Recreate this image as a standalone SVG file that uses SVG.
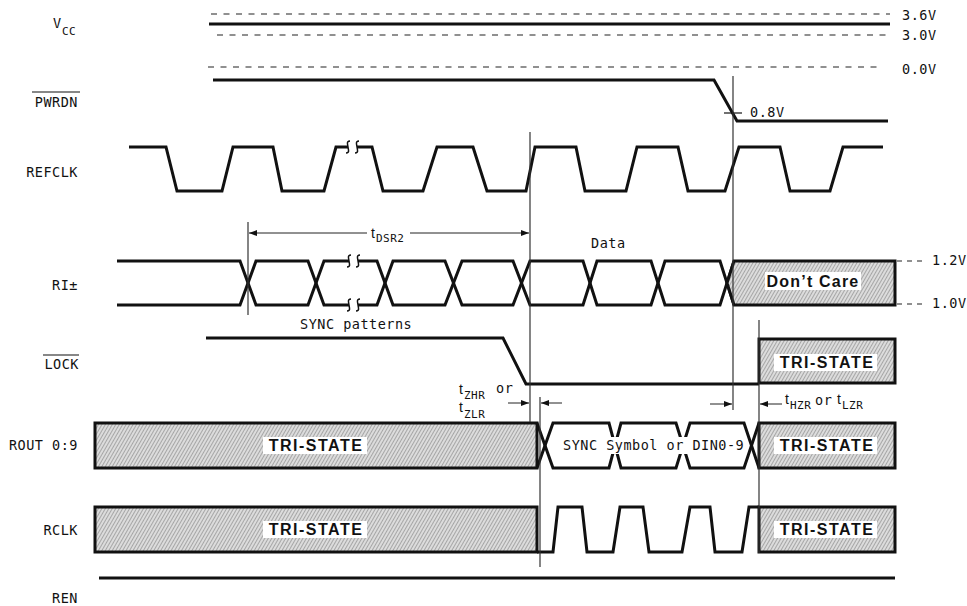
<svg xmlns="http://www.w3.org/2000/svg" width="967" height="606" viewBox="0 0 967 606">
<defs>
<pattern id="hatch" width="3" height="3" patternUnits="userSpaceOnUse" patternTransform="rotate(30)">
<rect width="3" height="3" fill="#dcdcdc"/>
<line x1="0" y1="0" x2="0" y2="3" stroke="#7a7a7a" stroke-width="1.1"/>
</pattern>
<marker id="ah" viewBox="0 0 8 6" markerWidth="8" markerHeight="6" refX="8" refY="3" orient="auto-start-reverse" markerUnits="userSpaceOnUse">
<path d="M0,0 L8,3 L0,6 z" fill="#111"/>
</marker>
<style>
.sig{fill:none;stroke:#111;stroke-width:3;stroke-linejoin:miter}
.box{fill:url(#hatch);stroke:#111;stroke-width:3}
.dash{fill:none;stroke:#222;stroke-width:1.2;stroke-dasharray:6 6.5}
.ref{fill:none;stroke:#333;stroke-width:1.2}
.arr{fill:none;stroke:#222;stroke-width:1}
.brk{fill:none;stroke:#111;stroke-width:1.5}
.lbl{font-family:"DejaVu Sans Mono","Liberation Mono",monospace;font-size:13.5px;letter-spacing:0.5px;fill:#111}
.t{font-family:"Liberation Sans",Arial,sans-serif;font-size:14px;fill:#111}
.sub{font-family:"DejaVu Sans Mono","Liberation Mono",monospace;font-size:11px;letter-spacing:0.5px;fill:#111}
.bold{font-family:"Liberation Sans",Arial,sans-serif;font-weight:bold;font-size:16px;letter-spacing:1.5px;fill:#111}
.wbg{fill:#fff}
</style>
</defs>
<rect width="967" height="606" fill="#fff"/>

<g id="labels">
<text class="lbl" x="53" y="28">V</text>
<text class="sub" x="62" y="35">CC</text>
<text class="lbl" x="78" y="107" text-anchor="end">PWRDN</text>
<line x1="32" y1="92" x2="80" y2="92" stroke="#111" stroke-width="1.2"/>
<text class="lbl" x="78" y="177" text-anchor="end">REFCLK</text>
<text class="lbl" x="78" y="290" text-anchor="end">RI±</text>
<text class="lbl" x="79" y="369" text-anchor="end">LOCK</text>
<line x1="43" y1="355" x2="79" y2="355" stroke="#111" stroke-width="1.2"/>
<text class="lbl" x="78" y="450" text-anchor="end">ROUT 0:9</text>
<text class="lbl" x="78" y="535" text-anchor="end">RCLK</text>
<text class="lbl" x="78" y="603" text-anchor="end">REN</text>
</g>

<g id="vcc">
<line class="dash" x1="211" y1="14" x2="890" y2="14"/>
<line class="sig" x1="209" y1="24" x2="890" y2="24"/>
<line class="dash" x1="217" y1="35" x2="890" y2="35"/>
<text class="lbl" x="902" y="20">3.6V</text>
<text class="lbl" x="902" y="40">3.0V</text>
</g>

<g id="pwrdn">
<line class="dash" x1="208" y1="67" x2="882" y2="67"/>
<text class="lbl" x="902" y="74">0.0V</text>
<path class="sig" d="M213,80 L714,80 L737,121 L888,121"/>
<line x1="724" y1="113" x2="742" y2="113" stroke="#111" stroke-width="1.2"/>
<text class="lbl" x="750" y="117">0.8V</text>
</g>

<g id="refclk">
<path class="sig" d="M129,147 L166,147 L177,191 L222,191 L233,147 L273,147 L282,191 L324,191 L336,147 L372,147 L383,191 L423,191 L437,147 L473,147 L487,191 L526,191 L535,147 L576,147 L585,191 L626,191 L637,147 L678,147 L688,191 L725,191 L739,147 L780,147 L790,191 L830,191 L843,147 L883,147"/>
<rect x="348" y="143" width="9" height="8" fill="#fff"/>
<path class="brk" d="M350,141 Q347,141 347.5,144 L348.5,150 Q349,153 346,153"/>
<path class="brk" d="M359,141 Q356,141 356.5,144 L357.5,150 Q358,153 355,153"/>
</g>

<g id="ri">
<path class="sig" d="M117,261 L240,261 L256,305 L308,305 L324,261 L377,261 L393,305 L445,305 L462,261 L513,261 L530,305 L583,305 L597,261 L651,261 L665,305 L720,305 L734,261"/>
<path class="sig" d="M117,305 L240,305 L256,261 L308,261 L324,305 L377,305 L393,261 L445,261 L462,305 L513,305 L530,261 L583,261 L597,305 L651,305 L665,261 L720,261 L734,305"/>
<rect x="349" y="257" width="9" height="8" fill="#fff"/>
<rect x="349" y="301" width="9" height="8" fill="#fff"/>
<path class="brk" d="M351,255 Q348,255 348.5,258 L349.5,264 Q350,267 347,267"/>
<path class="brk" d="M360,255 Q357,255 357.5,258 L358.5,264 Q359,267 356,267"/>
<path class="brk" d="M351,299 Q348,299 348.5,302 L349.5,308 Q350,311 347,311"/>
<path class="brk" d="M360,299 Q357,299 357.5,302 L358.5,308 Q359,311 356,311"/>
<path class="box" d="M734,261 L895,261 L895,305 L734,305 L727,283 z"/>
<rect class="wbg" x="765" y="272" width="96" height="18"/>
<text class="bold" x="813" y="287" text-anchor="middle" style="letter-spacing:1.2px">Don’t Care</text>
<line class="dash" x1="897" y1="261" x2="927" y2="261" style="stroke-dasharray:5 5"/>
<line class="dash" x1="897" y1="304" x2="927" y2="304" style="stroke-dasharray:5 5"/>
<text class="lbl" x="932" y="265">1.2V</text>
<text class="lbl" x="932" y="308">1.0V</text>
<text class="lbl" x="300" y="329">SYNC patterns</text>
<text class="lbl" x="591" y="248">Data</text>
</g>

<g id="lock">
<path class="sig" d="M206,338 L503,338 L526,384 L759,384"/>
<rect class="box" x="759" y="339" width="136" height="44"/>
<rect class="wbg" x="774" y="354" width="103" height="17"/>
<text class="bold" x="827" y="368" text-anchor="middle">TRI-STATE</text>
</g>

<g id="rout">
<rect class="box" x="95" y="423" width="442" height="45"/>
<rect class="wbg" x="263" y="437" width="104" height="17"/>
<text class="bold" x="316" y="451" text-anchor="middle">TRI-STATE</text>
<path class="sig" d="M537,423 L553,468 L609,468 L621,423 L676,423 L690,468 L744,468 L759,423"/>
<path class="sig" d="M537,468 L553,423 L609,423 L621,468 L676,468 L690,423 L744,423 L759,468"/>
<rect class="wbg" x="561" y="437" width="185" height="17"/>
<text class="lbl" x="563" y="450">SYNC Symbol or DIN0-9</text>
<rect class="box" x="759" y="423" width="136" height="45"/>
<rect class="wbg" x="774" y="437" width="103" height="17"/>
<text class="bold" x="827" y="451" text-anchor="middle">TRI-STATE</text>
</g>

<g id="rclk">
<rect class="box" x="95" y="507" width="442" height="45"/>
<rect class="wbg" x="263" y="521" width="104" height="17"/>
<text class="bold" x="316" y="535" text-anchor="middle">TRI-STATE</text>
<path class="sig" d="M537,552 L553,552 L558,507 L582,507 L587,552 L613,552 L620,507 L643,507 L649,552 L682,552 L690,507 L710,507 L715,552 L742,552 L749,507 L759,507"/>
<rect class="box" x="759" y="507" width="136" height="45"/>
<rect class="wbg" x="774" y="521" width="103" height="17"/>
<text class="bold" x="827" y="535" text-anchor="middle">TRI-STATE</text>
</g>

<g id="ren">
<line class="sig" x1="99" y1="578" x2="895" y2="578"/>
</g>

<g id="connectors">
<line class="ref" x1="248" y1="222" x2="248" y2="315"/>
<line class="ref" x1="530" y1="132" x2="530" y2="422"/>
<line class="ref" x1="540" y1="397" x2="540" y2="567"/>
<line class="ref" x1="733" y1="76" x2="733" y2="410"/>
<line class="ref" x1="759" y1="320" x2="759" y2="553"/>
<line class="arr" x1="249" y1="233" x2="367" y2="233" marker-start="url(#ah)"/>
<line class="arr" x1="410" y1="233" x2="529" y2="233" marker-end="url(#ah)"/>
<text class="t" x="371" y="238">t</text>
<text class="sub" x="376" y="242">DSR2</text>
<line class="arr" x1="508" y1="403" x2="529" y2="403" marker-end="url(#ah)"/>
<line class="arr" x1="562" y1="403" x2="541" y2="403" marker-end="url(#ah)"/>
<text class="t" x="459" y="394">t</text>
<text class="sub" x="464" y="399">ZHR</text>
<text class="lbl" x="496" y="393">or</text>
<text class="t" x="459" y="412">t</text>
<text class="sub" x="464" y="418">ZLR</text>
<line class="arr" x1="710" y1="404" x2="732" y2="404" marker-end="url(#ah)"/>
<line class="arr" x1="782" y1="404" x2="760" y2="404" marker-end="url(#ah)"/>
<text class="t" x="785" y="404">t</text>
<text class="sub" x="790" y="409">HZR</text>
<text class="lbl" x="815" y="405">or</text>
<text class="t" x="837" y="404">t</text>
<text class="sub" x="842" y="409">LZR</text>
</g>
</svg>
